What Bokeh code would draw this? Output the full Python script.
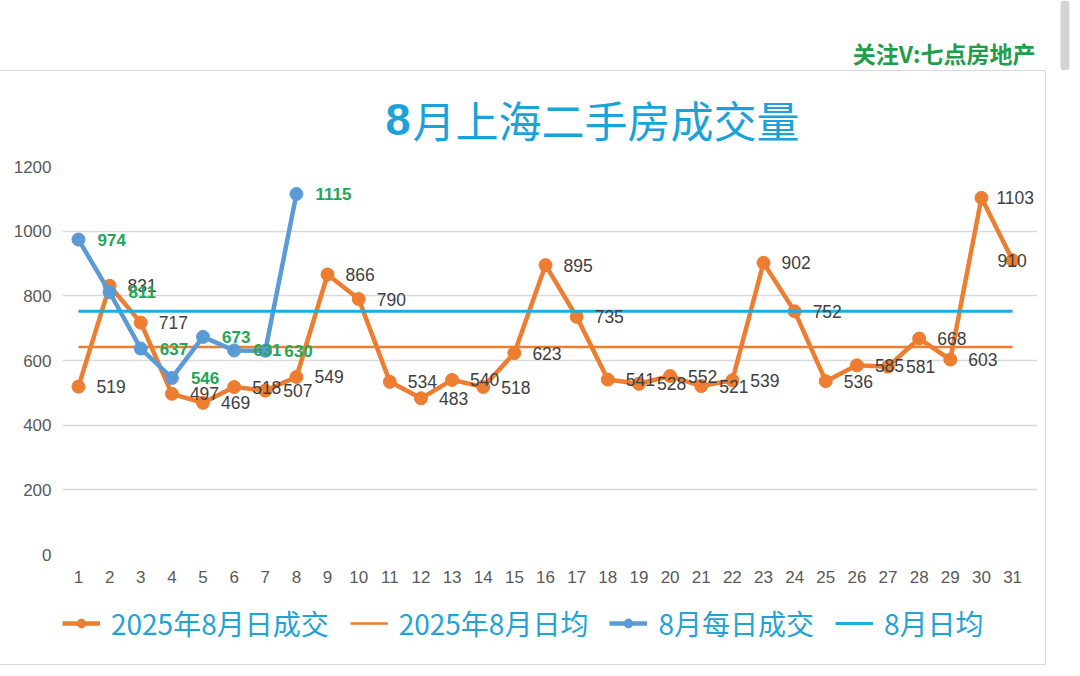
from bokeh.plotting import figure
from bokeh.models import (Range1d, FixedTicker, Label, LabelSet, ColumnDataSource,
                          Legend, LegendItem, BoxAnnotation)
from bokeh.layouts import column
from bokeh.embed import file_html
from bokeh.resources import INLINE
from bokeh.core.properties import value

# ---------------- data ----------------
days = list(range(1, 32))
sales_2025 = [519, 831, 717, 497, 469, 518, 507, 549, 866, 790,
              534, 483, 540, 518, 623, 895, 735, 541, 528, 552,
              521, 539, 902, 752, 536, 585, 581, 668, 603, 1103, 910]
days_aug = list(range(1, 9))
sales_aug = [974, 811, 637, 546, 673, 631, 630, 1115]
avg_2025 = 642
avg_aug = 752
y_ticks = [0, 200, 400, 600, 800, 1000, 1200]
title_text = "8月上海二手房成交量"
watermark_text = "关注V:七点房地产"
series_names = ["2025年8月日成交", "2025年8月日均", "8月每日成交", "8月日均"]

ORANGE = "#ED7D31"
BLUE = "#5B9BD5"
CYAN = "#1DAEE0"
TITLE_C = "#1BA3D8"
GREEN = "#25A55A"
CJK = "Noto Sans CJK SC"
BOXW = 1045


def blank(w, h):
    f = figure(width=w, height=h, output_backend="svg", toolbar_location=None,
               x_range=Range1d(0, w), y_range=Range1d(h, 0), frame_align=False,
               min_border=0, x_axis_type=None, y_axis_type=None)
    f.outline_line_color = None
    f.grid.grid_line_color = None
    return f


# ---------------- top band (watermark) ----------------
top = blank(1080, 70)
top.add_layout(Label(x=1035, y=52, text=watermark_text,
                     text_font=CJK, text_font_style="bold", text_font_size="23px",
                     text_color="#1E9E48", text_align="right", text_baseline="middle"))
top.add_layout(BoxAnnotation(left=1060, right=1069, top=0, bottom=70,
                             fill_color="#D4D4D4", fill_alpha=1, line_color=None,
                             border_radius=4))

# ---------------- title band ----------------
tfig = blank(BOXW, 85)
tfig.add_layout(Label(x=385, y=48, text=title_text[0], text_font="Liberation Sans",
                      text_font_style="bold", text_font_size="45px", text_color=TITLE_C,
                      text_align="left", text_baseline="middle"))
tfig.add_layout(Label(x=412, y=47, text=title_text[1:], text_font=CJK,
                      text_font_size="43px", text_color=TITLE_C,
                      text_align="left", text_baseline="middle"))

# ---------------- main chart ----------------
p = figure(width=BOXW, height=435, output_backend="svg", toolbar_location=None,
           x_range=Range1d(0.487, 31.8), y_range=Range1d(0, 1200), frame_align=False,
           min_border_left=62, min_border_right=8,
           min_border_top=10, min_border_bottom=37)
p.outline_line_color = None

for ax in (p.xaxis[0], p.yaxis[0]):
    ax.axis_line_color = None
    ax.major_tick_line_color = None
    ax.minor_tick_line_color = None
    ax.major_tick_out = 0
    ax.major_tick_in = 0
    ax.minor_tick_out = 0
    ax.major_label_text_color = "#595959"
    ax.major_label_text_font = "Liberation Sans"
    ax.major_label_text_font_size = "17px"
p.xaxis.ticker = FixedTicker(ticks=days)
p.yaxis.ticker = FixedTicker(ticks=y_ticks)
p.xaxis.major_label_standoff = 16
p.yaxis.major_label_standoff = 11
p.xgrid.grid_line_color = None
p.ygrid.grid_line_color = "#D9D9D9"
p.ygrid.grid_line_width = 1.5

src25 = ColumnDataSource(dict(x=days, y=sales_2025, t=[str(v) for v in sales_2025],
                              dx=[18] * (len(days) - 2) + [15, -15]))
srcau = ColumnDataSource(dict(x=days_aug, y=sales_aug, t=[str(v) for v in sales_aug]))

p.line("x", "y", source=src25, line_color=ORANGE, line_width=4.5)
p.scatter("x", "y", source=src25, size=13, fill_color=ORANGE, line_color=ORANGE)
p.line([days[0], days[-1]], [avg_2025, avg_2025], line_color=ORANGE, line_width=2.5)
p.line("x", "y", source=srcau, line_color=BLUE, line_width=4.5)
p.scatter("x", "y", source=srcau, size=13, fill_color=BLUE, line_color=BLUE)
p.line([days[0], days[-1]], [avg_aug, avg_aug], line_color=CYAN, line_width=3)

p.add_layout(LabelSet(x="x", y="y", text="t", source=src25, x_offset="dx",
                      text_align="left", text_baseline="middle",
                      text_font=value("Liberation Sans"), text_font_size="17.5px",
                      text_color="#404040"))
p.add_layout(LabelSet(x="x", y="y", text="t", source=srcau, x_offset=19,
                      text_align="left", text_baseline="middle",
                      text_font=value("Liberation Sans"), text_font_size="17px",
                      text_font_style="bold", text_color=GREEN))

# ---------------- legend band ----------------
# legend swatches: same series drawn in a band whose ranges keep them out of view
lfig = blank(BOXW, 73)
r1 = lfig.line(days, sales_2025, line_color=ORANGE, line_width=4.5)
s1 = lfig.scatter(days, sales_2025, fill_color=ORANGE, line_color=ORANGE)
r2 = lfig.line([days[0], days[-1]], [avg_2025, avg_2025], line_color=ORANGE, line_width=2.5)
r3 = lfig.line(days_aug, sales_aug, line_color=BLUE, line_width=4.5)
s3 = lfig.scatter(days_aug, sales_aug, fill_color=BLUE, line_color=BLUE)
r4 = lfig.line([days[0], days[-1]], [avg_aug, avg_aug], line_color=CYAN, line_width=3)
legend = Legend(items=[
    LegendItem(label=series_names[0], renderers=[r1, s1]),
    LegendItem(label=series_names[1], renderers=[r2]),
    LegendItem(label=series_names[2], renderers=[r3, s3]),
    LegendItem(label=series_names[3], renderers=[r4]),
], orientation="horizontal", location=(62, 21))
legend.label_text_font = CJK
legend.label_text_font_size = "28px"
legend.label_text_color = "#23A3D3"
legend.glyph_width = 38
legend.glyph_height = 22
legend.label_height = 22
legend.label_standoff = 11
legend.spacing = 21
legend.padding = 0
legend.margin = 0
legend.border_line_color = None
legend.background_fill_alpha = 0
lfig.add_layout(legend, "center")

box = column(tfig, p, lfig, spacing=0)
box.styles = {"border-top": "1px solid #D9D9D9", "border-right": "1px solid #D9D9D9",
              "border-bottom": "1px solid #D9D9D9"}
page = column(top, box, spacing=0)
open("out.html", "w").write(file_html(page, INLINE))
